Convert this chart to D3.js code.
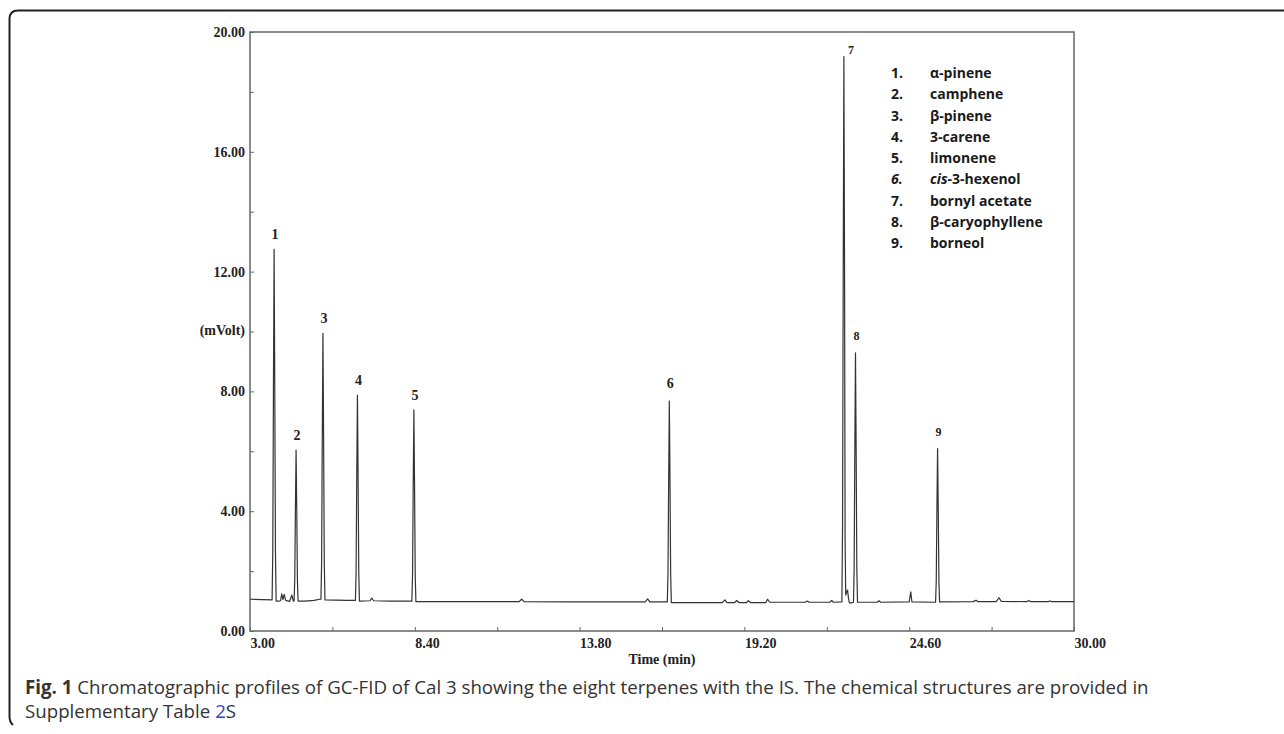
<!DOCTYPE html>
<html>
<head>
<meta charset="utf-8">
<script src="https://cdn.jsdelivr.net/npm/d3@7"></script>
<style>
  body { margin: 0; background: #fff; }
  svg { display: block; }
  .tick text { font-family: "Liberation Serif", "Times New Roman", serif; font-weight: bold; font-size: 14px; fill: #222; }
  .tick line { stroke: #666; }
</style>
</head>
<body>
<svg id="chart"></svg>
<script>
// chromatogram trace, [time (min), signal (mVolt)]
var trace = [
  [3.00, 1.06], [3.40, 1.05], [3.724, 1.04], [3.746, 2.62], [3.768, 8.06], [3.79, 12.74],
  [3.812, 8.06], [3.834, 2.62], [3.856, 1.00], [3.95, 1.00], [4.00, 1.01], [4.04, 1.24],
  [4.08, 1.05], [4.12, 1.22], [4.17, 1.02], [4.30, 0.99], [4.37, 1.20], [4.42, 1.00],
  [4.444, 1.00], [4.466, 1.68], [4.488, 4.02], [4.51, 6.04], [4.532, 4.02], [4.554, 1.68],
  [4.576, 1.00], [4.80, 1.00], [5.10, 1.02], [5.28, 1.06], [5.324, 1.06], [5.346, 2.26],
  [5.368, 6.39], [5.39, 9.94], [5.412, 6.39], [5.434, 2.26], [5.456, 1.04], [5.80, 1.03],
  [6.20, 1.02], [6.454, 1.02], [6.476, 1.95], [6.498, 5.14], [6.52, 7.88], [6.542, 5.14],
  [6.564, 1.95], [6.586, 1.00], [6.93, 1.01], [6.99, 1.10], [7.05, 1.01], [7.60, 1.00],
  [8.304, 1.00], [8.326, 1.86], [8.348, 4.83], [8.37, 7.38], [8.392, 4.83], [8.414, 1.86],
  [8.436, 0.98], [9.50, 0.98], [11.82, 0.98], [11.90, 1.06], [11.98, 0.98], [13.50, 0.97],
  [15.95, 0.97], [16.03, 1.07], [16.10, 0.97], [16.674, 0.97], [16.696, 1.88], [16.718, 5.00],
  [16.74, 7.68], [16.762, 5.00], [16.784, 1.88], [16.806, 0.95], [17.50, 0.95], [18.48, 0.95],
  [18.56, 1.04], [18.63, 0.95], [18.88, 0.95], [18.95, 1.02], [19.02, 0.95], [19.27, 0.95],
  [19.33, 1.01], [19.40, 0.95], [19.90, 0.95], [19.96, 1.06], [20.03, 0.96], [21.20, 0.96],
  [21.26, 1.00], [21.32, 0.96], [22.00, 0.96], [22.06, 1.02], [22.12, 0.96], [22.394, 0.97],
  [22.416, 3.43], [22.438, 11.90], [22.46, 19.18], [22.482, 11.90], [22.50, 3.00], [22.52, 1.20],
  [22.55, 1.30], [22.58, 1.37], [22.61, 1.10], [22.64, 0.94], [22.70, 0.94], [22.774, 0.96],
  [22.796, 2.08], [22.818, 5.96], [22.84, 9.29], [22.862, 5.96], [22.884, 2.08], [22.906, 0.96],
  [23.55, 0.96], [23.61, 1.01], [23.67, 0.96], [24.60, 0.97], [24.65, 1.31], [24.69, 0.97],
  [25.464, 0.96], [25.486, 1.65], [25.508, 4.04], [25.53, 6.09],
  [25.552, 4.04], [25.574, 1.65], [25.596, 0.97], [26.70, 0.98], [26.79, 1.03], [26.86, 0.98],
  [27.45, 0.98], [27.54, 1.11], [27.62, 0.99], [28.45, 0.98], [28.52, 1.02], [28.58, 0.98],
  [29.15, 0.98], [29.21, 1.00], [29.27, 0.98], [30.00, 0.98]
];

// numbered peaks
var peakNums = [1, 2, 3, 4, 5, 6, 7, 8, 9];
var peakTimes = [3.79, 4.51, 5.39, 6.52, 8.37, 16.74, 22.46, 22.84, 25.53];
var peakHeights = [12.74, 6.04, 9.94, 7.88, 7.38, 7.68, 19.18, 9.29, 6.09];

var legendNames = ["α-pinene", "camphene", "β-pinene", "3-carene", "limonene",
  "cis-3-hexenol", "bornyl acetate", "β-caryophyllene", "borneol"];

var xTicks = [3.0, 8.4, 13.8, 19.2, 24.6, 30.0];
var xMinor = [5.7, 11.1, 16.5, 21.9, 27.3];
var yTicks = [0, 4, 8, 12, 16, 20];
var yMinor = [2, 6, 10, 14, 18];

var W = 1284, H = 734;
var margin = { left: 250, right: 210, top: 32, bottom: 103 };

var svg = d3.select("#chart").attr("width", W).attr("height", H);

var x = d3.scaleLinear().domain([3, 30]).range([margin.left, W - margin.right]);
var y = d3.scaleLinear().domain([0, 20]).range([H - margin.bottom, margin.top]);

// outer figure frame (open on the right)
svg.append("path")
  .attr("d", "M1284,10.5 H18 Q9.5,10.5 9.5,19 V716 Q9.5,722 13,725")
  .attr("fill", "none")
  .attr("stroke", "#222")
  .attr("stroke-width", 2);

// plot box
svg.append("rect")
  .attr("x", x(3)).attr("y", y(20))
  .attr("width", x(30) - x(3)).attr("height", y(0) - y(20))
  .attr("fill", "none")
  .attr("stroke", "#666")
  .attr("stroke-width", 1.5);

// axes
var gx = svg.append("g").attr("transform", `translate(0,${y(0)})`)
  .call(d3.axisBottom(x).tickValues(xTicks).tickSize(-4).tickPadding(7)
    .tickFormat(d3.format(".2f")));
gx.select(".domain").remove();
gx.selectAll("text").attr("text-anchor", "start");

svg.append("g").attr("transform", `translate(0,${y(0)})`)
  .call(d3.axisBottom(x).tickValues(xMinor).tickSize(-4).tickFormat(""))
  .call((g) => g.select(".domain").remove());

var gy = svg.append("g").attr("transform", `translate(${x(3)},0)`)
  .call(d3.axisLeft(y).tickValues(yTicks).tickSize(-4).tickPadding(5)
    .tickFormat(d3.format(".2f")));
gy.select(".domain").remove();

svg.append("g").attr("transform", `translate(${x(3)},0)`)
  .call(d3.axisLeft(y).tickValues(yMinor).tickSize(-4).tickFormat(""))
  .call((g) => g.select(".domain").remove());

// axis titles
svg.append("text")
  .attr("x", 662).attr("y", 664)
  .attr("text-anchor", "middle")
  .style("font-family", "'Liberation Serif', serif")
  .style("font-weight", "bold")
  .style("font-size", "14px")
  .style("fill", "#222")
  .text("Time (min)");

svg.append("text")
  .attr("x", 245).attr("y", 335)
  .attr("text-anchor", "end")
  .style("font-family", "'Liberation Serif', serif")
  .style("font-weight", "bold")
  .style("font-size", "14px")
  .style("fill", "#222")
  .text("(mVolt)");

// the trace
var line = d3.line().x((d) => x(d[0])).y((d) => y(d[1]));
svg.append("path")
  .datum(trace)
  .attr("d", line)
  .attr("fill", "none")
  .attr("stroke", "#333")
  .attr("stroke-width", 1.2)
  .attr("stroke-linejoin", "round");

// peak numbers
var peaks = peakNums.map((n, i) => ({ n: n, t: peakTimes[i], v: peakHeights[i] }));
svg.append("g").selectAll("text")
  .data(peaks)
  .enter()
  .append("text")
  .attr("x", (d) => (d.n == 7 ? x(d.t) + 7 : x(d.t) + 1))
  .attr("y", (d) => (d.n == 7 ? y(d.v) - 3 : y(d.v) - (d.n > 5 ? 13 : 10)))
  .attr("text-anchor", "middle")
  .style("font-family", "'Liberation Serif', serif")
  .style("font-weight", "bold")
  .style("font-size", (d) => (d.n > 6 ? "12px" : "14px"))
  .style("fill", "#222")
  .text((d) => d.n);

// legend list
var leg = svg.append("g")
  .style("font-family", "'Open Sans', sans-serif")
  .style("font-weight", "bold")
  .style("font-size", "14px")
  .style("fill", "#1a1a1a");

legendNames.forEach(function (name, i) {
  var yy = 78 + i * 21.25;
  leg.append("text")
    .attr("x", 891).attr("y", yy)
    .style("font-style", i == 5 ? "italic" : "normal")
    .text((i + 1) + ".");
  var t = leg.append("text").attr("x", 930).attr("y", yy);
  if (name.indexOf("cis-") == 0) {
    t.append("tspan").style("font-style", "italic").text("cis");
    t.append("tspan").text(name.slice(3));
  } else {
    t.text(name);
  }
});

// caption
var cap = svg.append("g")
  .style("font-family", "'Open Sans', sans-serif")
  .style("font-size", "18.7px")
  .style("fill", "#333");

var c1 = cap.append("text").attr("x", 25).attr("y", 694);
c1.append("tspan").style("font-weight", "bold").text("Fig. 1");
c1.append("tspan").text(" Chromatographic profiles of GC-FID of Cal 3 showing the eight terpenes with the IS. The chemical structures are provided in");

var c2 = cap.append("text").attr("x", 25).attr("y", 718);
c2.append("tspan").text("Supplementary Table ");
c2.append("tspan").style("fill", "#2a3fd6").text("2");
c2.append("tspan").text("S");
</script>
</body>
</html>
